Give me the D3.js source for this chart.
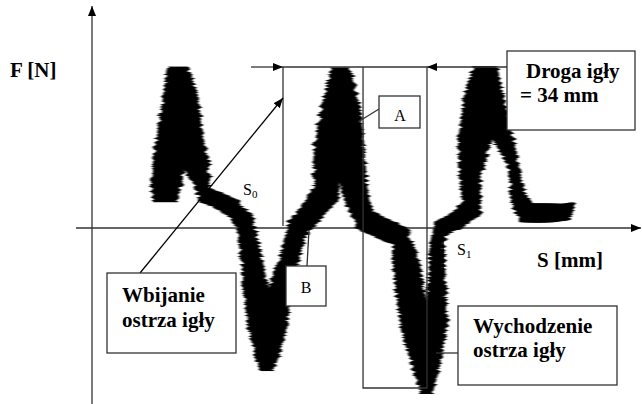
<!DOCTYPE html>
<html>
<head>
<meta charset="utf-8">
<script src="https://cdn.jsdelivr.net/npm/d3@7"></script>
<style>
  body { margin: 0; background: #fff; }
  svg { display: block; }
  .ax { stroke: #333; stroke-width: 1.3; fill: none; }
  .lbl { font-family: "Liberation Serif", "Times New Roman", serif; font-weight: bold; font-size: 21px; fill: #000; }
  .sm { font-family: "Liberation Serif", "Times New Roman", serif; font-size: 16px; fill: #000; }
</style>
</head>
<body>
<div id="chart"></div>
<script>
var width = 642, height = 404;

// needle force trace: S [mm], F [N], noise spread [mm]
var sVals = [17.24, 17.71, 18.42, 19.36, 20.31, 21.96, 23.14, 24.09, 25.74, 26.68, 29.04, 33.06,
             36.13, 37.31, 38.72, 40.14, 41.32, 42.74, 44.39, 47.23, 48.64, 51.71, 55.25,
             56.20, 57.38, 58.80, 60.21, 60.92, 62.10,
             64.46, 69.19, 72.73,
             73.91, 75.09, 76.51, 77.92, 79.10, 80.52, 81.23, 81.46, 81.46, 82.41,
             86.42, 89.73,
             89.26, 90.44, 91.15, 92.80, 94.69, 96.81, 99.17, 100.12, 100.83,
             102.95, 106.97, 110.98, 113.34];
var fVals = [2.7, 4.8, 7.8, 11.8, 15.9, 12.8, 8.8, 6.8, 4.8, 3.3, 2.9, 2.1,
             0.6, -2.2, -6.2, -10.2, -14.2, -10.2, -6.2, -2.2, 0.0, 1.5, 3.5,
             7.8, 11.8, 15.9, 11.8, 7.8, 3.5,
             0.8, -0.2, -0.8,
             -2.7, -6.2, -10.2, -13.7, -16.5, -13.2, -9.2, -5.2, -1.7, 0.0,
             0.8, 2.0,
             5.3, 8.8, 12.8, 15.9, 12.8, 9.3, 6.8, 4.8, 2.8,
             1.5, 1.5, 1.6, 2.3];
var spread = [6.1, 7.3, 7.3, 5.9, 5.2, 6.4, 6.4, 6.6, 4.0, 3.3, 3.3, 3.5,
              4.0, 4.7, 5.9, 6.4, 3.3, 6.4, 5.4, 4.3, 4.7, 4.7, 5.9,
              7.6, 6.8, 4.5, 6.4, 6.8, 5.9,
              4.5, 4.3, 4.0,
              5.9, 6.8, 6.8, 4.9, 2.6, 4.0, 5.4, 4.0, 3.3, 3.3,
              3.5, 4.3,
              4.9, 7.8, 6.8, 5.7, 5.2, 4.9, 2.8, 2.8, 3.8,
              4.3, 4.3, 3.8, 1.4];

// marked points on the S axis [mm] and the stroke level [N]
var s0 = 45.1, sA = 64.0, s1 = 79.1;
var fTop = 16.1, fBottom = -16.0;

var x = d3.scaleLinear().domain([0, 129.4]).range([92, 640]);
var y = d3.scaleLinear().domain([-17.6, 22.3]).range([404, 5]);
var pxPerMm = x(1) - x(0);

var svg = d3.select("#chart").append("svg")
    .attr("width", width)
    .attr("height", height);

var defs = svg.append("defs");
// ragged horizontal smear of the scanned trace
var smear = defs.append("filter").attr("id", "smear")
    .attr("x", "-10%").attr("y", "-10%").attr("width", "120%").attr("height", "120%")
    .attr("color-interpolation-filters", "sRGB");
smear.append("feTurbulence").attr("type", "fractalNoise")
    .attr("baseFrequency", "0.03 0.45").attr("numOctaves", 2).attr("seed", 7).attr("result", "noise");
var ct = smear.append("feComponentTransfer").attr("in", "noise").attr("result", "shift");
ct.append("feFuncB").attr("type", "linear").attr("slope", 0).attr("intercept", 0.5);
ct.append("feFuncA").attr("type", "linear").attr("slope", 0).attr("intercept", 1);
smear.append("feDisplacementMap").attr("in", "SourceGraphic").attr("in2", "shift")
    .attr("scale", 9).attr("xChannelSelector", "R").attr("yChannelSelector", "B").attr("result", "moved");
smear.append("feGaussianBlur").attr("in", "moved").attr("stdDeviation", "1.1 0.2");

defs.append("marker").attr("id", "head")
    .attr("viewBox", "0 0 10 10").attr("refX", 10).attr("refY", 5)
    .attr("markerWidth", 10).attr("markerHeight", 10)
    .attr("markerUnits", "userSpaceOnUse")
    .attr("orient", "auto")
  .append("path").attr("d", "M0,1L10,5L0,9Z").attr("fill", "#000");

// axes
svg.append("line").attr("class", "ax")
    .attr("x1", x(0)).attr("x2", x(0)).attr("y1", height).attr("y2", 6)
    .attr("marker-end", "url(#head)");
svg.append("line").attr("class", "ax")
    .attr("x1", 76).attr("x2", 641).attr("y1", y(0)).attr("y2", y(0))
    .attr("marker-end", "url(#head)");

// trace as horizontal streaks along the read points
var pts = sVals.map(function(s, i) { return [x(s), y(fVals[i]), spread[i] * pxPerMm]; });
var streaks = [];
for (var i = 0; i < pts.length - 1; i++) {
  var a = pts[i], b = pts[i + 1];
  var dx = b[0] - a[0], dy = b[1] - a[1];
  var len = Math.hypot(dx, dy);
  var cosT = Math.abs(dx) / len;
  var n = Math.max(2, Math.ceil(len / 0.7));
  for (var k = 0; k <= n; k++) {
    var t = k / n;
    var w = a[2] + (b[2] - a[2]) * t;
    streaks.push({ cx: a[0] + dx * t, cy: a[1] + dy * t, w: w, h: Math.max(2, w * cosT) });
  }
}

var trace = svg.append("g").attr("class", "trace").attr("filter", "url(#smear)");
trace.selectAll("rect").data(streaks).enter().append("rect")
    .attr("x", function(d) { return d.cx - d.w / 2; })
    .attr("y", function(d) { return d.cy - d.h / 2; })
    .attr("width", function(d) { return d.w; })
    .attr("height", function(d) { return d.h; })
    .attr("fill", "#000");

// S1 edge
svg.append("line").attr("class", "ax")
    .attr("x1", 443).attr("x2", 443).attr("y1", y(0) + 4).attr("y2", 276)
    .style("stroke", "#000");

// stroke markers
var ann = svg.append("g");
ann.append("line").attr("class", "ax")
    .attr("x1", 251).attr("x2", x(s0)).attr("y1", y(fTop)).attr("y2", y(fTop))
    .attr("marker-end", "url(#head)");
ann.append("line").attr("class", "ax")
    .attr("x1", 507).attr("x2", x(s1)).attr("y1", y(fTop)).attr("y2", y(fTop))
    .attr("marker-end", "url(#head)");
ann.append("line").attr("class", "ax")
    .attr("x1", x(s0)).attr("x2", x(s1)).attr("y1", y(fTop)).attr("y2", y(fTop));
ann.append("line").attr("class", "ax")
    .attr("x1", x(s0)).attr("x2", x(s0)).attr("y1", y(fTop)).attr("y2", y(0) - 2);
ann.append("path").attr("class", "ax")
    .attr("d", "M" + x(sA) + "," + y(fTop) + "V" + y(fBottom) + "H" + x(s1) + "V" + y(fTop));

// leaders
ann.append("line").attr("class", "ax").style("stroke", "#000")
    .attr("x1", 140).attr("y1", 273).attr("x2", x(s0)).attr("y2", 98)
    .attr("marker-end", "url(#head)");
ann.append("line").attr("class", "ax").attr("x1", 379).attr("y1", 109).attr("x2", 358).attr("y2", 122);
ann.append("line").attr("class", "ax").attr("x1", 307).attr("y1", 266).attr("x2", 309).attr("y2", 230);
ann.append("line").attr("class", "ax").attr("x1", 458).attr("y1", 353).attr("x2", 436).attr("y2", 353);

// boxes
function box(x0, y0, w, h) {
  ann.append("rect").attr("x", x0).attr("y", y0).attr("width", w).attr("height", h)
      .attr("fill", "#fff").attr("stroke", "#333").attr("stroke-width", 1.3);
}
box(507, 51, 128, 79);
box(379, 96, 41, 32);
box(286, 266, 40, 40);
box(107, 273, 129, 80);
box(458, 306, 159, 79);

function txt(cls, tx, ty, s, anchor) {
  return svg.append("text").attr("class", cls).attr("x", tx).attr("y", ty)
      .attr("text-anchor", anchor || "start").text(s);
}
txt("lbl", 10, 77, "F [N]");
txt("lbl", 537, 267, "S [mm]");
txt("lbl", 526, 78, "Droga igły");
txt("lbl", 520, 102, "= 34 mm");
txt("lbl", 122, 302, "Wbijanie");
txt("lbl", 122, 327, "ostrza igły");
txt("lbl", 473, 333, "Wychodzenie");
txt("lbl", 473, 357, "ostrza igły");
txt("sm", 400, 121, "A", "middle");
txt("sm", 306, 293, "B", "middle");

var t0 = txt("sm", 243, 195, "S");
t0.append("tspan").attr("dy", 3).style("font-size", "11px").text("0");
var t1 = txt("sm", 457, 255, "S");
t1.append("tspan").attr("dy", 3).style("font-size", "11px").text("1");
</script>
</body>
</html>
